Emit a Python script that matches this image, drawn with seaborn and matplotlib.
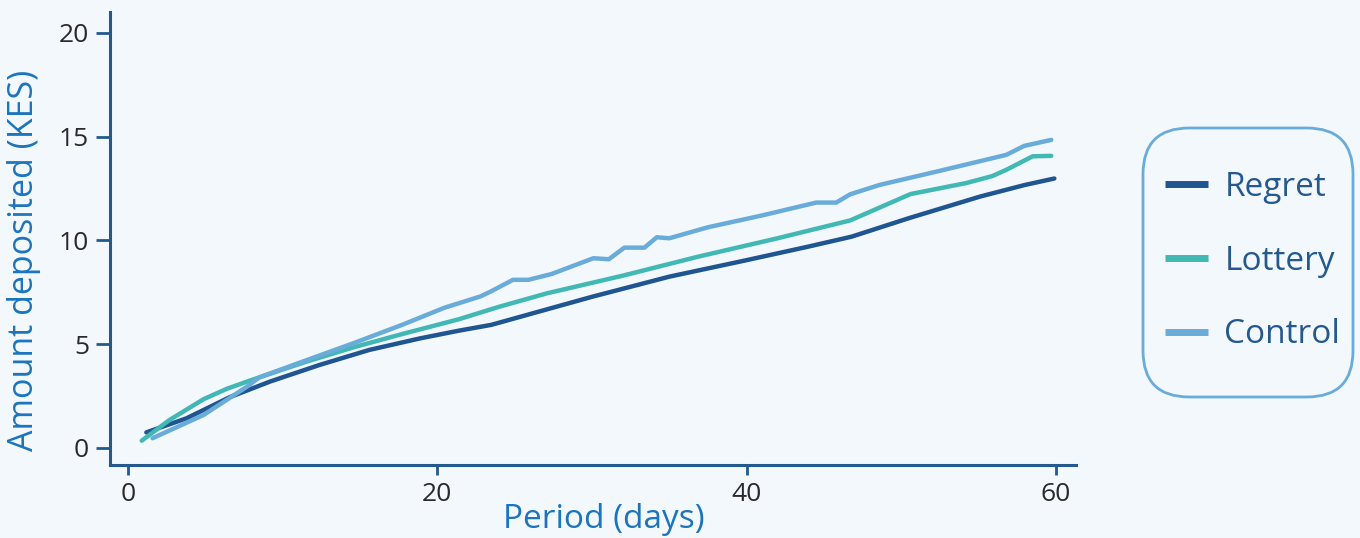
import numpy as np
import pandas as pd
import matplotlib
matplotlib.use("Agg")
import matplotlib.pyplot as plt
from matplotlib.patches import FancyBboxPatch
import seaborn as sns

# ---- data ----
regret_days = [1.2, 3.8, 6.6, 9.2, 12.4, 15.6, 18.9, 21.4, 23.5, 30.0, 35.0, 39.9, 44.0, 46.8, 50.5, 55.1, 58.0, 59.9]
regret_vals = [0.75, 1.43, 2.45, 3.20, 4.00, 4.72, 5.28, 5.65, 5.93, 7.28, 8.25, 9.03, 9.70, 10.18, 11.07, 12.11, 12.67, 12.98]

lottery_days = [0.9, 2.7, 4.9, 6.4, 8.1, 11.3, 14.6, 17.8, 21.4, 24.0, 27.1, 32.0, 36.9, 42.0, 46.7, 50.6, 54.2, 55.9, 56.8, 58.5, 59.7]
lottery_vals = [0.35, 1.35, 2.35, 2.85, 3.30, 4.10, 4.85, 5.50, 6.20, 6.80, 7.45, 8.30, 9.22, 10.10, 10.96, 12.23, 12.76, 13.10, 13.40, 14.05, 14.07]

control_days = [1.6, 4.9, 7.7, 8.5, 11.3, 14.6, 17.8, 20.45, 22.8, 23.5, 24.9, 25.9, 27.4, 30.1, 31.1, 32.1, 33.4, 34.2, 35.0,
                37.5, 41.0, 44.5, 45.8, 46.7, 48.6, 52.5, 56.8, 57.95, 59.7]
control_vals = [0.47, 1.59, 2.95, 3.40, 4.16, 5.05, 5.95, 6.75, 7.30, 7.55, 8.10, 8.10, 8.38, 9.14, 9.09, 9.65, 9.65, 10.15, 10.10,
                10.63, 11.20, 11.82, 11.82, 12.22, 12.67, 13.35, 14.12, 14.55, 14.84]

groups = ["Regret", "Lottery", "Control"]
colors = ["#1f5591", "#41b8b3", "#69acd9"]

x_ticks = [0, 20, 40, 60]
y_ticks = [0, 5, 10, 15, 20]

frames = []
for name, d, v in zip(groups, [regret_days, lottery_days, control_days],
                      [regret_vals, lottery_vals, control_vals]):
    frames.append(pd.DataFrame({"day": d, "amount": v, "group": name}))
df = pd.concat(frames, ignore_index=True)

# ---- styling ----
bg = "#f3f8fc"
axis_col = "#24598f"
label_col = "#1b74bd"

sns.set_theme(style="ticks")
plt.rcParams["font.family"] = ["Open Sans", "DejaVu Sans"]

W, H = 1360, 538
fig = plt.figure(figsize=(W / 100, H / 100), dpi=100, facecolor=bg)
ax = fig.add_axes([110 / W, 1 - 465 / H, 966 / W, 453 / H])
ax.set_facecolor(bg)

sns.lineplot(data=df, x="day", y="amount", hue="group", hue_order=groups,
             palette=colors, estimator=None, sort=False, linewidth=3.2, ax=ax)
for ln in ax.get_lines():
    ln.set_solid_joinstyle("round")

ax.set_xlim(-1.15, 61.3)
ax.set_ylim(-0.82, 21.0)
ax.set_xticks(x_ticks)
ax.set_yticks(y_ticks)

for s in ["top", "right"]:
    ax.spines[s].set_visible(False)
for s in ["left", "bottom"]:
    ax.spines[s].set_color(axis_col)
    ax.spines[s].set_linewidth(2.2)

ax.tick_params(axis="y", length=10, width=2, color=axis_col, labelsize=19, labelcolor="#2a2a2a", pad=5)
ax.tick_params(axis="x", length=7, width=2, color=axis_col, labelsize=19, labelcolor="#2a2a2a", pad=5)

ax.set_xlabel("Period (days)", fontsize=24, color=label_col)
ax.set_ylabel("Amount deposited (KES)", fontsize=24.5, color=label_col)
ax.xaxis.set_label_coords(0.511, -0.121)
ax.yaxis.set_label_coords(-0.089, 0.4525)
ax.xaxis.label.set_va("center")
ax.yaxis.label.set_va("center")

handles, labels = ax.get_legend_handles_labels()
for h in handles:
    h.set_linewidth(5)
    h.set_solid_capstyle("butt")
leg = ax.legend(handles, labels, loc="center left", bbox_to_anchor=(1165 / W, 1 - 261 / H),
                bbox_transform=fig.transFigure, frameon=False, fontsize=24,
                handlelength=1.3, handletextpad=0.48, labelspacing=1.22,
                borderpad=0, borderaxespad=0)
for t in leg.get_texts():
    t.set_color(axis_col)

box = FancyBboxPatch((1143 / W, 1 - 397 / H), (1353 - 1143) / W, (397 - 128) / H,
                     boxstyle="round,pad=0,rounding_size=0.034",
                     transform=fig.transFigure, facecolor="none", edgecolor="#69acd9",
                     linewidth=2, mutation_aspect=W / H)
fig.patches.append(box)

fig.savefig("out.png", dpi=100, facecolor=bg)
